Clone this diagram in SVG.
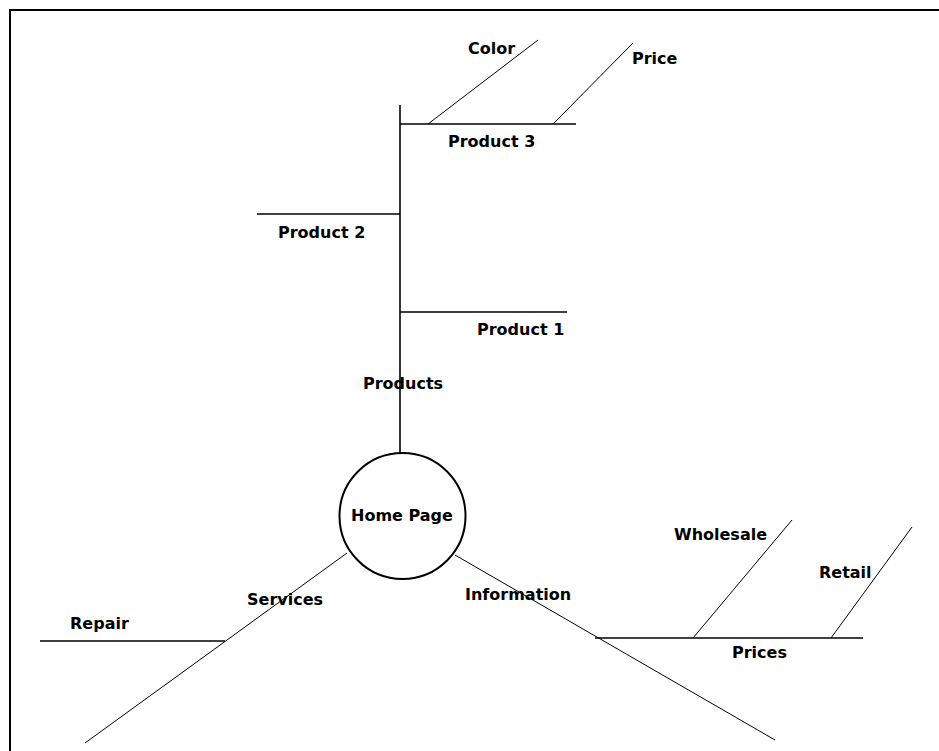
<svg xmlns="http://www.w3.org/2000/svg" width="939" height="751" viewBox="0 0 939 751">
<style>
text{font-family:"DejaVu Sans","Liberation Sans",sans-serif;font-size:16px;font-weight:bold;fill:#000}
.br{stroke:#000;stroke-width:1.6;fill:none}
.dg{stroke:#000;stroke-width:1;fill:none}
.fr{stroke:#000;stroke-width:2;fill:none}
</style>
<rect width="939" height="751" fill="#fff"/>
<path class="fr" d="M10 751V10H939"/>
<g id="connectors">
<line class="br" x1="400" y1="105" x2="400" y2="453"/>
<line class="br" x1="400" y1="124" x2="576" y2="124"/>
<line class="dg" x1="428" y1="124" x2="538" y2="40"/>
<line class="dg" x1="553" y1="124" x2="633" y2="43"/>
<line class="br" x1="257" y1="214" x2="400" y2="214"/>
<line class="br" x1="400" y1="312" x2="567" y2="312"/>
<line class="dg" x1="347" y1="553" x2="85" y2="743"/>
<line class="br" x1="40" y1="641" x2="225" y2="641"/>
<line class="dg" x1="455" y1="555" x2="775" y2="740"/>
<line class="br" x1="595" y1="638" x2="863" y2="638"/>
<line class="dg" x1="693" y1="638" x2="792" y2="520"/>
<line class="dg" x1="831" y1="638" x2="912" y2="527"/>
</g>
<g id="home"><circle cx="402.5" cy="516" r="63" fill="#fff" stroke="#000" stroke-width="2"/><text x="351" y="521">Home Page</text></g>
<g id="products"><text x="363" y="389">Products</text></g>
<g id="product1"><text x="477" y="335">Product 1</text></g>
<g id="product2"><text x="278" y="238">Product 2</text></g>
<g id="product3"><text x="448" y="147">Product 3</text></g>
<g id="color"><text x="468" y="54">Color</text></g>
<g id="price"><text x="632" y="64">Price</text></g>
<g id="services"><text x="247" y="605">Services</text></g>
<g id="repair"><text x="70" y="629">Repair</text></g>
<g id="information"><text x="465" y="600">Information</text></g>
<g id="prices"><text x="732" y="658">Prices</text></g>
<g id="wholesale"><text x="674" y="540">Wholesale</text></g>
<g id="retail"><text x="819" y="578">Retail</text></g>
</svg>
